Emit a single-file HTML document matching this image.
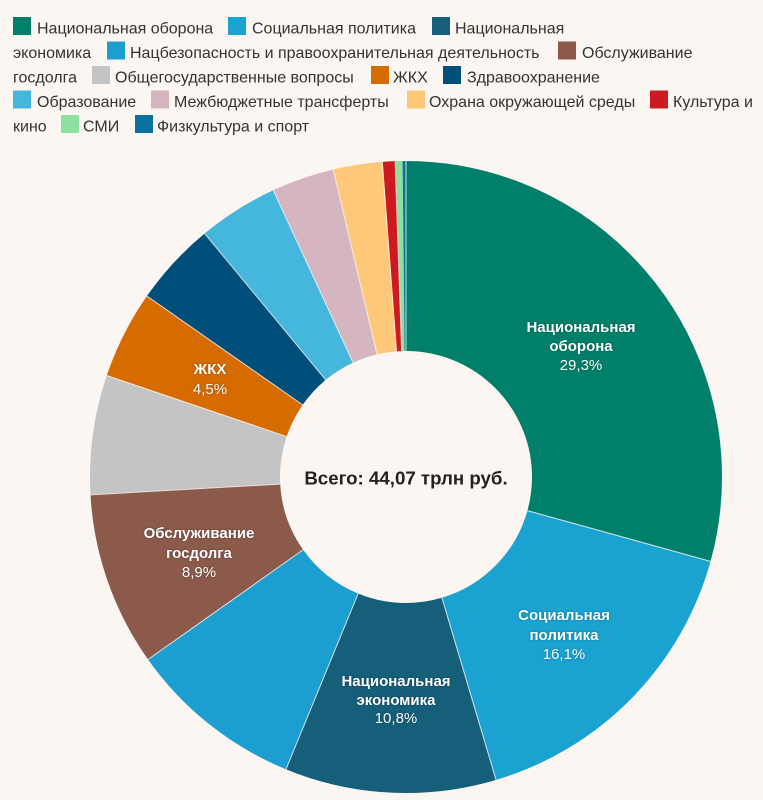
<!DOCTYPE html>
<html>
<head>
<meta charset="utf-8">
<style>
  html, body { margin:0; padding:0; background:#fcf6f3; }
  body { width:763px; height:800px; overflow:hidden; }
  svg { display:block; }
  .lg { font-family:"Liberation Sans", Arial, sans-serif; font-size:16px; fill:#333; }
  .lb { font-family:"Liberation Sans", Arial, sans-serif; font-size:15px; fill:#fff; text-anchor:middle; }
  .b { font-weight:bold; }
</style>
</head>
<body>
<svg width="763" height="800" viewBox="0 0 763 800" xmlns="http://www.w3.org/2000/svg">
  <rect x="0" y="0" width="763" height="800" fill="#fcf6f3"/>

  <!-- Legend -->
  <g class="lg">
    <!-- Row 1 -->
    <rect x="13" y="17" width="18" height="18" fill="#00806a"/>
    <text x="37" y="33.5">Национальная оборона</text>
    <rect x="228" y="17" width="18" height="18" fill="#1aa2d1"/>
    <text x="252" y="33.5">Социальная политика</text>
    <rect x="432" y="17" width="18" height="18" fill="#155f7a"/>
    <text x="455" y="33.5">Национальная</text>
    <!-- Row 2 -->
    <text x="13" y="58">экономика</text>
    <rect x="107" y="41.5" width="18" height="18" fill="#1c9fd0"/>
    <text x="130" y="58">Нацбезопасность и правоохранительная деятельность</text>
    <rect x="558" y="41.5" width="18" height="18" fill="#8b5a4b"/>
    <text x="582" y="58">Обслуживание</text>
    <!-- Row 3 -->
    <text x="13" y="82.5">госдолга</text>
    <rect x="92" y="66" width="18" height="18" fill="#c4c4c4"/>
    <text x="115" y="82.5">Общегосударственные вопросы</text>
    <rect x="371" y="66" width="18" height="18" fill="#d66b00"/>
    <text x="393" y="82.5">ЖКХ</text>
    <rect x="443" y="66" width="18" height="18" fill="#004f7a"/>
    <text x="467" y="82.5">Здравоохранение</text>
    <!-- Row 4 -->
    <rect x="13" y="90.5" width="18" height="18" fill="#45b6dc"/>
    <text x="37" y="107">Образование</text>
    <rect x="151" y="90.5" width="18" height="18" fill="#d4b5c0"/>
    <text x="174" y="107">Межбюджетные трансферты</text>
    <rect x="407" y="90.5" width="18" height="18" fill="#ffc878"/>
    <text x="429" y="107">Охрана окружающей среды</text>
    <rect x="650" y="90.5" width="18" height="18" fill="#cc1a20"/>
    <text x="673" y="107">Культура и</text>
    <!-- Row 5 -->
    <text x="13" y="131.5">кино</text>
    <rect x="61" y="115" width="18" height="18" fill="#8ee0a0"/>
    <text x="83" y="131.5">СМИ</text>
    <rect x="135" y="115" width="18" height="18" fill="#0b72a0"/>
    <text x="157" y="131.5">Физкультура и спорт</text>
  </g>

  <!-- Donut: center (406,477), R=316, r=126 -> mid radius 221, stroke 190 -->
  <g transform="rotate(-90 406 477)" fill="none" stroke-width="190">
    <circle cx="406" cy="477" r="221" stroke="#00806a" stroke-dasharray="406.85 1388.58" stroke-dashoffset="0"/>
    <circle cx="406" cy="477" r="221" stroke="#1aa2d1" stroke-dasharray="223.56 1388.58" stroke-dashoffset="-406.85"/>
    <circle cx="406" cy="477" r="221" stroke="#155f7a" stroke-dasharray="149.97 1388.58" stroke-dashoffset="-630.42"/>
    <circle cx="406" cy="477" r="221" stroke="#1c9fd0" stroke-dasharray="124.97 1388.58" stroke-dashoffset="-780.38"/>
    <circle cx="406" cy="477" r="221" stroke="#8b5a4b" stroke-dasharray="123.58 1388.58" stroke-dashoffset="-905.35"/>
    <circle cx="406" cy="477" r="221" stroke="#c4c4c4" stroke-dasharray="84.70 1388.58" stroke-dashoffset="-1028.94"/>
    <circle cx="406" cy="477" r="221" stroke="#d66b00" stroke-dasharray="62.49 1388.58" stroke-dashoffset="-1113.64"/>
    <circle cx="406" cy="477" r="221" stroke="#004f7a" stroke-dasharray="59.71 1388.58" stroke-dashoffset="-1176.13"/>
    <circle cx="406" cy="477" r="221" stroke="#45b6dc" stroke-dasharray="56.93 1388.58" stroke-dashoffset="-1235.84"/>
    <circle cx="406" cy="477" r="221" stroke="#d4b5c0" stroke-dasharray="44.43 1388.58" stroke-dashoffset="-1292.77"/>
    <circle cx="406" cy="477" r="221" stroke="#ffc878" stroke-dasharray="34.71 1388.58" stroke-dashoffset="-1337.20"/>
    <circle cx="406" cy="477" r="221" stroke="#cc1a20" stroke-dasharray="9.03 1388.58" stroke-dashoffset="-1371.92"/>
    <circle cx="406" cy="477" r="221" stroke="#8ee0a0" stroke-dasharray="4.86 1388.58" stroke-dashoffset="-1380.94"/>
    <circle cx="406" cy="477" r="221" stroke="#0b72a0" stroke-dasharray="2.78 1388.58" stroke-dashoffset="-1385.80"/>
  </g>

  <!-- Slice separators -->
  <g stroke="#fcf6f3" stroke-opacity="0.8" stroke-width="1">
    <line x1="406" y1="161" x2="406" y2="351" transform="rotate(0 406 477)"/>
    <line x1="406" y1="161" x2="406" y2="351" transform="rotate(105.48 406 477)"/>
    <line x1="406" y1="161" x2="406" y2="351" transform="rotate(163.44 406 477)"/>
    <line x1="406" y1="161" x2="406" y2="351" transform="rotate(202.32 406 477)"/>
    <line x1="406" y1="161" x2="406" y2="351" transform="rotate(234.72 406 477)"/>
    <line x1="406" y1="161" x2="406" y2="351" transform="rotate(266.76 406 477)"/>
    <line x1="406" y1="161" x2="406" y2="351" transform="rotate(288.72 406 477)"/>
    <line x1="406" y1="161" x2="406" y2="351" transform="rotate(304.92 406 477)"/>
    <line x1="406" y1="161" x2="406" y2="351" transform="rotate(320.4 406 477)"/>
    <line x1="406" y1="161" x2="406" y2="351" transform="rotate(335.16 406 477)"/>
    <line x1="406" y1="161" x2="406" y2="351" transform="rotate(346.68 406 477)"/>
    <line x1="406" y1="161" x2="406" y2="351" transform="rotate(355.68 406 477)"/>
    <line x1="406" y1="161" x2="406" y2="351" transform="rotate(358.02 406 477)"/>
  </g>

  <!-- Slice labels -->
  <g class="lb" style="text-shadow:0 0 2px rgba(0,0,0,0.35)">
    <text x="581" y="332" class="b">Национальная</text>
    <text x="581" y="351" class="b">оборона</text>
    <text x="581" y="370">29,3%</text>

    <text x="564" y="620" class="b">Социальная</text>
    <text x="564" y="640" class="b">политика</text>
    <text x="564" y="659">16,1%</text>

    <text x="396" y="686" class="b">Национальная</text>
    <text x="396" y="705" class="b">экономика</text>
    <text x="396" y="723">10,8%</text>

    <text x="210" y="374" class="b">ЖКХ</text>
    <text x="210" y="394">4,5%</text>

    <text x="199" y="538" class="b">Обслуживание</text>
    <text x="199" y="558" class="b">госдолга</text>
    <text x="199" y="577">8,9%</text>
  </g>

  <!-- Center total -->
  <text x="406" y="484.5" text-anchor="middle" font-family="'Liberation Sans', Arial, sans-serif" font-size="18.7" font-weight="bold" fill="#222">Всего: 44,07 трлн руб.</text>
</svg>
</body>
</html>
